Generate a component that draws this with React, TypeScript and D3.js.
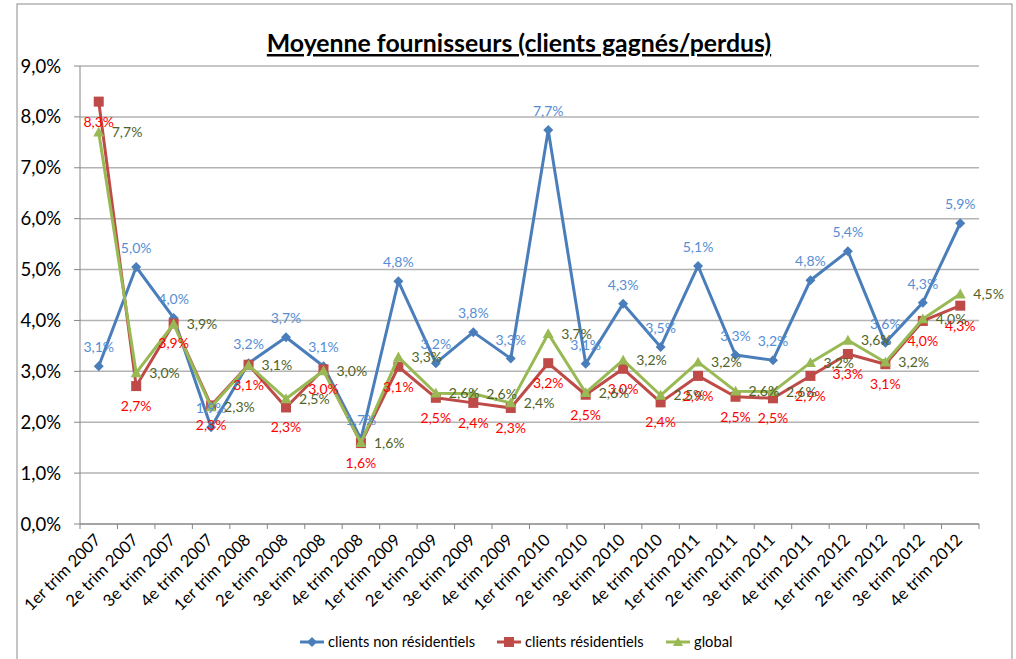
import React from "react";
import * as d3 from "d3";

const categories = [
  "1er trim 2007", "2e trim 2007", "3e trim 2007", "4e trim 2007",
  "1er trim 2008", "2e trim 2008", "3e trim 2008", "4e trim 2008",
  "1er trim 2009", "2e trim 2009", "3e trim 2009", "4e trim 2009",
  "1er trim 2010", "2e trim 2010", "3e trim 2010", "4e trim 2010",
  "1er trim 2011", "2e trim 2011", "3e trim 2011", "4e trim 2011",
  "1er trim 2012", "2e trim 2012", "3e trim 2012", "4e trim 2012",
];

const nonResidentiels = [3.1, 5.05, 4.05, 1.9, 3.16, 3.67, 3.1, 1.67, 4.77, 3.16, 3.77, 3.25, 7.74, 3.15, 4.33, 3.48, 5.07, 3.32, 3.22, 4.79, 5.36, 3.56, 4.35, 5.91];
const residentiels = [8.3, 2.71, 3.94, 2.33, 3.13, 2.29, 3.04, 1.59, 3.09, 2.48, 2.38, 2.28, 3.16, 2.54, 3.05, 2.39, 2.91, 2.5, 2.47, 2.91, 3.34, 3.14, 3.99, 4.29];
const globalSeries = [7.7, 2.97, 3.93, 2.3, 3.12, 2.46, 3.01, 1.6, 3.28, 2.57, 2.56, 2.38, 3.74, 2.58, 3.22, 2.53, 3.18, 2.61, 2.6, 3.17, 3.61, 3.18, 4.03, 4.52];

const yTicks = [0, 1, 2, 3, 4, 5, 6, 7, 8, 9];

const titleText = "Moyenne fournisseurs (clients gagnés/perdus)";
const legendLabels = ["clients non résidentiels", "clients résidentiels", "global"];

const FONT = "Lato, 'Open Sans', sans-serif";
const fmt = (v: number) => d3.format(".1f")(v).replace(".", ",") + "%";

export default function App() {
  const W = 1016, H = 659;
  const left = 80, right = 979, top = 66, bottom = 524;
  const x = d3.scaleBand<string>().domain(categories).range([left, right]);
  const y = d3.scaleLinear().domain([0, 9]).range([bottom, top]);
  const cx = (c: string) => (x(c) as number) + x.bandwidth() / 2;
  const line = d3.line<number>().x((_, i) => cx(categories[i])).y((d) => y(d));

  const blue = "#4A7EBB", red = "#BE4B48", green = "#98B954";
  const blueLbl = "#558ED5", redLbl = "#FF0000", greenLbl = "#4F6228";

  const diamond = (px: number, py: number, s: number) =>
    `M${px},${py - s}L${px + s},${py}L${px},${py + s}L${px - s},${py}Z`;
  const tri = (px: number, py: number, s: number) =>
    `M${px},${py - s}L${px + s},${py + s * 0.8}L${px - s},${py + s * 0.8}Z`;

  const boundaries = d3.range(categories.length + 1).map((i) => left + i * x.bandwidth());

  return (
    <svg width={W} height={H} style={{ position: "absolute", left: 0, top: 0, background: "#fff" }} fontFamily={FONT}>
      <rect x={17} y={4} width={995} height={680} fill="#fff" stroke="#8C8C8C" strokeWidth={1} />
      <text x={519} y={52} textAnchor="middle" fontSize={24.8} fontWeight="bold" textDecoration="underline" fill="#000">
        {titleText}
      </text>
      {yTicks.map((t) => (
        <g key={t}>
          {t > 0 && <line x1={left} x2={right} y1={y(t)} y2={y(t)} stroke="#B3B3B3" strokeWidth={1.5} />}
          <line x1={left - 6} x2={left} y1={y(t)} y2={y(t)} stroke="#868686" strokeWidth={1} />
          <text x={61} y={y(t) + 6.5} textAnchor="end" fontSize={18.5} fill="#000">{fmt(t)}</text>
        </g>
      ))}
      <line x1={left} x2={left} y1={top} y2={bottom} stroke="#868686" strokeWidth={1} />
      <line x1={left} x2={right} y1={bottom} y2={bottom} stroke="#868686" strokeWidth={1.5} />
      {boundaries.map((b, i) => (
        <line key={i} x1={b} x2={b} y1={bottom} y2={bottom + 5} stroke="#868686" strokeWidth={1} />
      ))}
      {categories.map((c) => (
        <text key={c} transform={`translate(${cx(c) + 3},${bottom + 17}) rotate(-45)`} textAnchor="end" fontSize={16.5} fill="#000">
          {c}
        </text>
      ))}

      <path d={line(nonResidentiels) || ""} fill="none" stroke={blue} strokeWidth={3} strokeLinejoin="round" />
      {nonResidentiels.map((v, i) => (
        <path key={i} d={diamond(cx(categories[i]), y(v), 5)} fill={blue} />
      ))}
      <path d={line(residentiels) || ""} fill="none" stroke={red} strokeWidth={3} strokeLinejoin="round" />
      {residentiels.map((v, i) => (
        <rect key={i} x={cx(categories[i]) - 5} y={y(v) - 5} width={10} height={10} fill={red} />
      ))}
      <path d={line(globalSeries) || ""} fill="none" stroke={green} strokeWidth={3} strokeLinejoin="round" />
      {globalSeries.map((v, i) => (
        <path key={i} d={tri(cx(categories[i]), y(v), 5.5)} fill={green} />
      ))}

      {nonResidentiels.map((v, i) => (
        <text key={i} x={cx(categories[i])} y={y(v) - 14} textAnchor="middle" fontSize={14} fill={blueLbl}>{fmt(v)}</text>
      ))}
      {residentiels.map((v, i) => (
        <text key={i} x={cx(categories[i])} y={y(v) + 25} textAnchor="middle" fontSize={14} fill={redLbl}>{fmt(v)}</text>
      ))}
      {globalSeries.map((v, i) => (
        <text key={i} x={cx(categories[i]) + 13} y={y(v) + 5} textAnchor="start" fontSize={14} fill={greenLbl}>{fmt(v)}</text>
      ))}

      {legendLabels.map((l, i) => {
        const lx = [300, 497, 666][i];
        const ly = 642;
        const col = [blue, red, green][i];
        return (
          <g key={l}>
            <line x1={lx} x2={lx + 24} y1={ly} y2={ly} stroke={col} strokeWidth={3} />
            {i === 0 && <path d={diamond(lx + 12, ly, 5)} fill={col} />}
            {i === 1 && <rect x={lx + 7} y={ly - 5} width={10} height={10} fill={col} />}
            {i === 2 && <path d={tri(lx + 12, ly, 5)} fill={col} />}
            <text x={lx + 28} y={ly + 5} fontSize={14.7} fill="#000">{l}</text>
          </g>
        );
      })}
    </svg>
  );
}
